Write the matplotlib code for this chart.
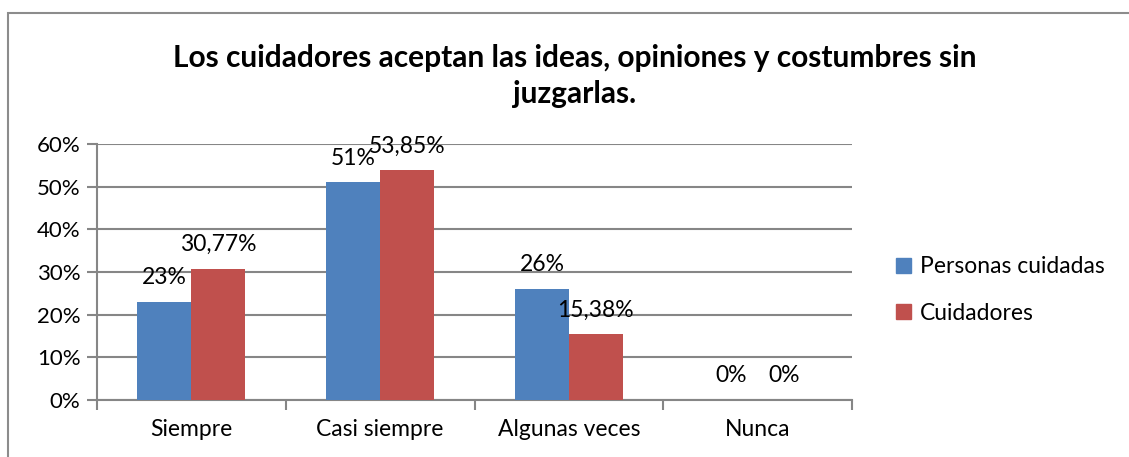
import matplotlib
matplotlib.use("Agg")
import matplotlib.pyplot as plt
import numpy as np
from matplotlib.patches import Rectangle, Patch

categories = ["Siempre", "Casi siempre", "Algunas veces", "Nunca"]
personas = [23, 51, 26, 0]
cuidadores = [30.77, 53.85, 15.38, 0]
personas_labels = ["23%", "51%", "26%", "0%"]
cuidadores_labels = ["30,77%", "53,85%", "15,38%", "0%"]
series_names = ["Personas cuidadas", "Cuidadores"]
yticks = [0, 10, 20, 30, 40, 50, 60]
title = "Los cuidadores aceptan las ideas, opiniones y costumbres sin\njuzgarlas."

BLUE = "#4F81BD"
RED = "#C0504D"
GRID = "#868686"
FONT = "Lato"

plt.rcParams['font.family'] = [FONT, 'DejaVu Sans']

fig = plt.figure(figsize=(11.29, 4.57), dpi=100)
ax = fig.add_axes([97/1129, 1-400/457, (852-97)/1129, (400-144)/457])

x = np.arange(len(categories))
w = 0.286
b1 = ax.bar(x - w/2, personas, w, color=BLUE, zorder=3)
b2 = ax.bar(x + w/2, cuidadores, w, color=RED, zorder=3)

for xi, v, lab in zip(x - w/2, personas, personas_labels):
    ax.annotate(lab, (xi, v), xytext=(0, 17.5), textcoords="offset points",
                ha="center", va="center", fontsize=16.5, color="black")
for xi, v, lab in zip(x + w/2, cuidadores, cuidadores_labels):
    ax.annotate(lab, (xi, v), xytext=(0, 17.5), textcoords="offset points",
                ha="center", va="center", fontsize=16.5, color="black")

ax.set_xlim(-0.5, len(categories) - 0.5)
ax.set_ylim(0, 60)
ax.set_yticks(yticks)
ax.set_yticklabels([f"{t}%" for t in yticks], fontsize=16)
ax.yaxis.grid(True, color=GRID, linewidth=1.5, zorder=0)
ax.set_axisbelow(True)

ax.set_xticks(np.arange(len(categories) + 1) - 0.5, minor=False)
ax.set_xticklabels([])
ax.set_xticks(x, minor=True)
ax.set_xticklabels(categories, minor=True, fontsize=16.5)
ax.tick_params(axis="x", which="major", length=7, width=1.5, color=GRID, direction="out")
ax.tick_params(axis="x", which="minor", length=0, pad=14)
ax.tick_params(axis="y", length=7, width=1.5, color=GRID, pad=5)

for s in ["top", "right"]:
    ax.spines[s].set_visible(False)
for s in ["left", "bottom"]:
    ax.spines[s].set_color(GRID)
    ax.spines[s].set_linewidth(1.5)

fig.text(575/1129, 1-76/457, title, ha="center", va="center", fontsize=21.5,
         fontweight="bold", linespacing=1.38)

handles = [Patch(color=BLUE), Patch(color=RED)]
leg = fig.legend(handles, series_names, loc="center left",
                 bbox_to_anchor=(875/1129, 1-290/457), frameon=False,
                 fontsize=16.5, handlelength=0.65, handleheight=0.65,
                 handletextpad=0.4, labelspacing=1.1)

frame = Rectangle((8/1129, -0.2), 1.2, 1.2 - 13/457, transform=fig.transFigure,
                  fill=False, edgecolor="#8C8C8C", linewidth=1.5, clip_on=False)
fig.patches.append(frame)

fig.savefig("out.png", dpi=100)
